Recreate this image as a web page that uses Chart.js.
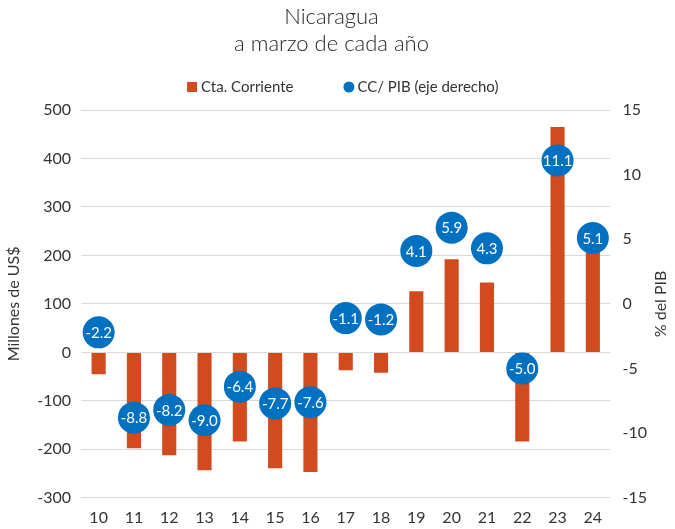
<!DOCTYPE html>
<html>
<head>
<meta charset="utf-8">
<script src="https://cdn.jsdelivr.net/npm/chart.js@4.4.1/dist/chart.umd.min.js"></script>
<style>
    html, body { margin: 0; padding: 0; background: #ffffff; }
    #wrap { width: 675px; height: 529px; }
</style>
</head>
<body>
<div id="wrap"><canvas id="chartCC" width="675" height="529"></canvas></div>
<script>
// 🔹 Data
const years = ["10", "11", "12", "13", "14", "15", "16", "17", "18", "19", "20", "21", "22", "23", "24"];
const ctaCorriente = [-45, -198, -212, -243, -184, -239, -247, -37, -42, 126, 192, 144, -184, 465, 215];
const ccPib = [-2.2, -8.8, -8.2, -9.0, -6.4, -7.7, -7.6, -1.1, -1.2, 4.1, 5.9, 4.3, -5.0, 11.1, 5.1];
const leftTicks = [-300, 500, 100];
const rightTicks = [-15, 15, 5];

const FONT = "Lato, 'Open Sans', sans-serif";
const TEXT = "#333333";
const RED = "#D14B1F";
const BLUE = "#0070C0";

/**
 * 🔹 Label putih di tengah tiap lingkaran
 */
const bubbleLabels = {
    id: "bubbleLabels",
    afterDatasetsDraw(chart) {
        const meta = chart.getDatasetMeta(1);
        const ctx = chart.ctx;
        ctx.save();
        ctx.font = "15px " + FONT;
        ctx.fillStyle = "#ffffff";
        ctx.textAlign = "center";
        ctx.textBaseline = "middle";
        meta.data.forEach((pt, i) => {
            ctx.fillText(ccPib[i].toFixed(1), pt.x, pt.y + 1);
        });
        ctx.restore();
    }
};

/**
 * 🔹 Legenda manual + judul sumbu kanan (dibaca dari bawah ke atas)
 */
const extras = {
    id: "extras",
    afterDraw(chart) {
        const ctx = chart.ctx;
        const area = chart.chartArea;
        ctx.save();
        ctx.font = "15px " + FONT;
        ctx.fillStyle = TEXT;
        ctx.textBaseline = "middle";

        const t1 = "Cta. Corriente";
        const t2 = "CC/ PIB (eje derecho)";
        const w1 = ctx.measureText(t1).width;
        const w2 = ctx.measureText(t2).width;
        const total = 10 + 4 + w1 + 50 + 11 + 3 + w2;
        let x = (area.left + area.right) / 2 - total / 2 - 3;
        const y = 87;

        ctx.fillStyle = RED;
        ctx.fillRect(x, y - 5, 10, 10);
        x += 14;
        ctx.fillStyle = TEXT;
        ctx.textAlign = "left";
        ctx.fillText(t1, x, y);
        x += w1 + 50;
        ctx.fillStyle = BLUE;
        ctx.beginPath();
        ctx.arc(x + 5.5, y, 5.5, 0, Math.PI * 2);
        ctx.fill();
        x += 14;
        ctx.fillStyle = TEXT;
        ctx.fillText(t2, x, y);

        // judul sumbu kanan
        ctx.translate(661, (area.top + area.bottom) / 2);
        ctx.rotate(-Math.PI / 2);
        ctx.textAlign = "center";
        ctx.font = "16px " + FONT;
        ctx.fillText("% del PIB", 0, 0);
        ctx.restore();
    }
};

new Chart(document.getElementById("chartCC").getContext("2d"), {
    data: {
        labels: years,
        datasets: [
            {
                type: "bar",
                label: "Cta. Corriente",
                data: ctaCorriente,
                backgroundColor: RED,
                yAxisID: "y",
                barPercentage: 0.4,
                categoryPercentage: 1,
                order: 2
            },
            {
                type: "line",
                label: "CC/ PIB (eje derecho)",
                data: ccPib,
                showLine: false,
                pointRadius: 16,
                pointHoverRadius: 16,
                pointBackgroundColor: BLUE,
                pointBorderColor: BLUE,
                pointBorderWidth: 0,
                yAxisID: "y1",
                order: 1
            }
        ]
    },
    options: {
        responsive: false,
        animation: false,
        layout: { padding: { left: 4, right: 16, top: 3, bottom: 0 } },
        plugins: {
            legend: { display: false },
            tooltip: { enabled: false },
            title: {
                display: true,
                text: ["Nicaragua", "a marzo de cada año"],
                color: "#262626",
                font: { family: FONT, size: 22, weight: "300", lineHeight: 1.25 },
                padding: { top: 0, bottom: 52 }
            }
        },
        scales: {
            x: {
                grid: { display: false },
                border: { display: false },
                ticks: { color: TEXT, font: { family: FONT, size: 16 }, padding: 2 }
            },
            y: {
                position: "left",
                min: leftTicks[0],
                max: leftTicks[1],
                ticks: { stepSize: leftTicks[2], color: TEXT, font: { family: FONT, size: 16 }, padding: 10 },
                grid: { color: "#D9D9D9", drawTicks: false },
                border: { display: false },
                title: { display: true, text: "Millones de US$", color: TEXT, font: { family: FONT, size: 16 }, padding: { top: 0, bottom: 4 } }
            },
            y1: {
                position: "right",
                min: rightTicks[0],
                max: rightTicks[1],
                ticks: { stepSize: rightTicks[2], color: TEXT, font: { family: FONT, size: 16 }, padding: 12 },
                grid: { display: false, drawTicks: false },
                border: { display: false }
            }
        }
    },
    plugins: [bubbleLabels, extras]
});
</script>
</body>
</html>
